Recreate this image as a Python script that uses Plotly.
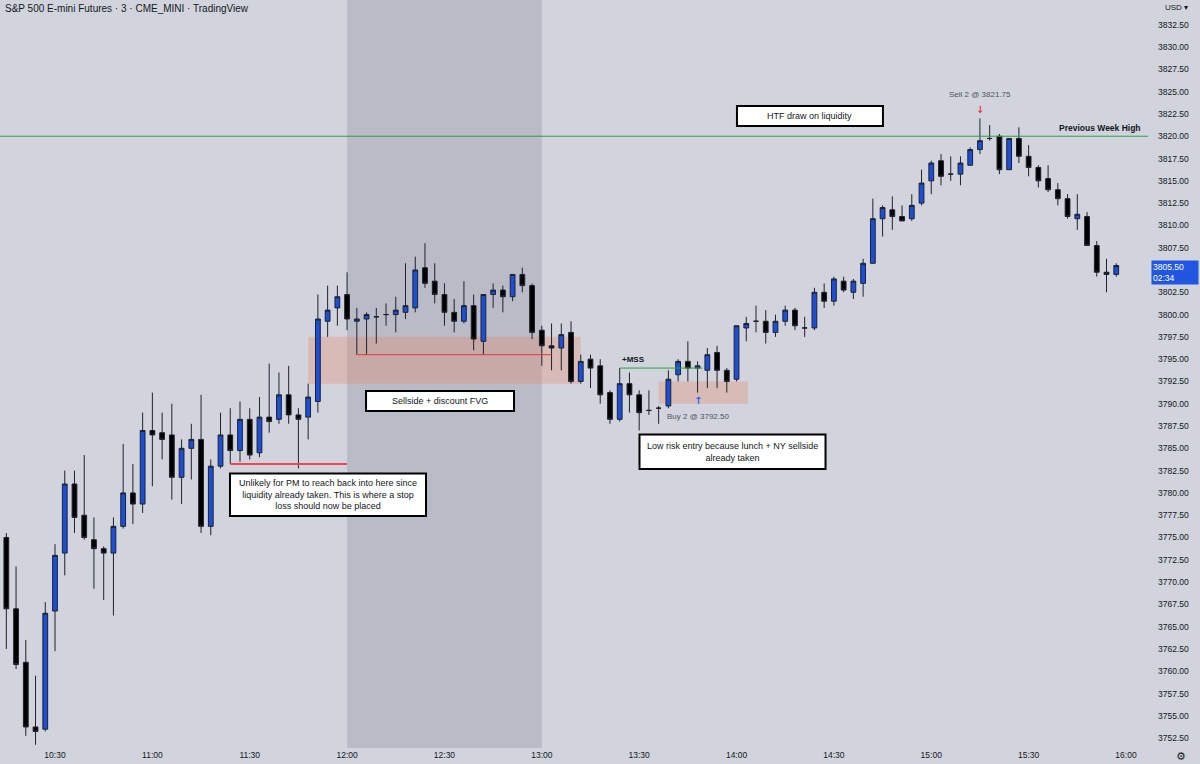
import plotly.graph_objects as go
import pandas as pd

DAY = "2022-12-09 "

# ---------------- data (3-minute bars, 10:15 .. 15:57) ----------------
opens = [3775.00, 3767.00, 3761.00, 3753.75, 3753.50, 3766.75, 3773.25, 3781.00, 3777.50, 3774.75,
         3773.75, 3773.25, 3776.25, 3780.00, 3778.75, 3787.00, 3786.75, 3786.50, 3781.75, 3785.00,
         3786.00, 3776.25, 3783.00, 3786.50, 3784.75, 3788.25, 3784.50, 3788.50, 3788.25, 3791.00,
         3788.75, 3788.50, 3790.25, 3799.25, 3800.75, 3802.25, 3799.25, 3799.50, 3799.75, 3800.00,
         3800.00, 3800.25, 3800.75, 3805.25, 3803.75, 3802.25, 3800.25, 3799.25, 3801.00, 3797.00,
         3802.25, 3802.75, 3802.00, 3804.50, 3803.25, 3798.25, 3796.50, 3796.25, 3798.00, 3792.50,
         3795.00, 3794.25, 3791.25, 3788.25, 3792.25, 3791.00, 3789.25, 3789.50, 3789.75, 3793.25,
         3794.75, 3794.00, 3793.75, 3795.75, 3793.75, 3792.75, 3798.50, 3799.25, 3799.25, 3798.00,
         3799.25, 3800.50, 3798.50, 3798.50, 3802.50, 3801.50, 3803.75, 3802.50, 3803.50, 3805.75,
         3810.75, 3811.75, 3811.00, 3810.75, 3812.50, 3815.00, 3817.25, 3815.75, 3815.75, 3816.75,
         3818.50, 3819.75, 3820.00, 3816.25, 3819.75, 3817.75, 3816.50, 3815.25, 3814.00, 3813.00,
         3810.75, 3811.00, 3807.75, 3804.75, 3804.50]
highs = [3775.50, 3771.75, 3763.50, 3759.50, 3767.75, 3774.25, 3782.50, 3782.50, 3784.25, 3777.25,
         3774.00, 3777.25, 3785.50, 3783.25, 3789.00, 3791.25, 3789.00, 3790.00, 3786.00, 3787.75,
         3791.00, 3783.75, 3789.00, 3789.50, 3790.25, 3789.50, 3790.75, 3794.50, 3793.50, 3794.25,
         3789.50, 3792.25, 3802.25, 3803.25, 3803.25, 3804.75, 3800.75, 3800.25, 3800.75, 3801.25,
         3802.00, 3805.75, 3806.50, 3808.00, 3805.75, 3803.50, 3801.75, 3803.75, 3802.25, 3802.25,
         3803.50, 3803.25, 3804.50, 3805.25, 3803.50, 3798.75, 3799.00, 3799.00, 3799.25, 3795.50,
         3795.50, 3795.00, 3791.50, 3794.00, 3793.50, 3791.50, 3791.50, 3789.75, 3793.75, 3795.00,
         3797.00, 3794.75, 3796.25, 3796.50, 3794.00, 3798.75, 3799.75, 3801.00, 3800.50, 3800.00,
         3801.00, 3800.75, 3799.75, 3803.00, 3803.50, 3804.25, 3804.25, 3804.00, 3806.25, 3813.00,
         3812.25, 3813.25, 3812.25, 3813.50, 3816.25, 3817.25, 3818.00, 3817.75, 3817.75, 3818.75,
         3822.00, 3821.25, 3820.25, 3819.75, 3821.00, 3819.00, 3816.75, 3816.75, 3814.75, 3813.50,
         3813.50, 3811.50, 3808.25, 3806.25, 3805.75]
lows = [3762.50, 3760.25, 3752.75, 3751.75, 3753.25, 3762.25, 3770.75, 3775.50, 3774.75, 3769.25,
        3768.00, 3766.25, 3776.00, 3776.50, 3777.75, 3780.75, 3783.75, 3779.25, 3778.75, 3781.50,
        3775.50, 3775.25, 3782.75, 3783.25, 3783.50, 3783.75, 3784.00, 3786.75, 3787.75, 3787.75,
        3782.75, 3786.00, 3789.00, 3797.50, 3798.75, 3798.25, 3795.50, 3795.50, 3796.75, 3798.75,
        3798.00, 3799.50, 3800.25, 3803.00, 3801.25, 3798.75, 3798.00, 3799.00, 3796.00, 3795.50,
        3800.75, 3800.25, 3801.50, 3802.50, 3797.25, 3794.25, 3793.75, 3793.75, 3792.25, 3792.25,
        3791.75, 3790.00, 3787.75, 3788.00, 3789.00, 3787.00, 3788.75, 3787.75, 3789.50, 3792.50,
        3792.50, 3791.25, 3791.75, 3791.75, 3791.25, 3792.50, 3797.00, 3798.00, 3796.75, 3797.50,
        3798.75, 3798.25, 3797.50, 3798.25, 3800.75, 3801.00, 3802.50, 3801.75, 3802.00, 3805.75,
        3808.75, 3809.50, 3810.50, 3810.50, 3812.25, 3813.50, 3814.50, 3815.00, 3814.50, 3816.75,
        3818.00, 3819.50, 3815.75, 3816.25, 3817.00, 3815.50, 3814.25, 3813.75, 3812.25, 3810.75,
        3809.50, 3807.75, 3804.25, 3802.50, 3804.25]
closes = [3767.00, 3760.75, 3753.75, 3753.25, 3766.50, 3773.00, 3781.00, 3777.25, 3775.00, 3773.75,
          3773.25, 3776.25, 3780.00, 3778.75, 3787.00, 3786.50, 3786.00, 3781.75, 3785.00, 3786.00,
          3776.25, 3783.00, 3786.50, 3784.75, 3788.25, 3784.25, 3788.50, 3788.00, 3791.00, 3788.75,
          3788.25, 3790.75, 3799.50, 3800.50, 3802.00, 3799.50, 3799.50, 3800.00, 3799.75, 3800.00,
          3800.50, 3801.00, 3805.00, 3803.50, 3802.25, 3800.25, 3799.25, 3801.00, 3797.25, 3802.25,
          3802.75, 3802.00, 3804.50, 3803.25, 3798.00, 3796.50, 3796.25, 3797.75, 3792.50, 3794.75,
          3794.00, 3791.00, 3788.25, 3792.25, 3791.00, 3789.00, 3789.25, 3789.50, 3792.75, 3794.75,
          3794.00, 3794.25, 3795.50, 3793.75, 3792.50, 3798.75, 3799.00, 3799.25, 3798.00, 3799.25,
          3800.50, 3798.75, 3798.50, 3802.50, 3801.50, 3804.00, 3802.75, 3803.75, 3805.75, 3810.75,
          3812.00, 3811.00, 3810.50, 3812.25, 3814.75, 3817.00, 3815.50, 3815.75, 3817.00, 3818.50,
          3819.50, 3819.75, 3816.25, 3819.75, 3817.75, 3816.50, 3815.00, 3814.00, 3813.00, 3811.00,
          3811.25, 3807.75, 3804.75, 3804.50, 3805.50]

time_tick_labels = ["10:30", "11:00", "11:30", "12:00", "12:30", "13:00", "13:30",
                    "14:00", "14:30", "15:00", "15:30", "16:00"]

# price-scale labels shown (3805.00 is hidden behind the last-price label)
price_ticks = [3752.50, 3755.00, 3757.50, 3760.00, 3762.50, 3765.00, 3767.50, 3770.00, 3772.50,
               3775.00, 3777.50, 3780.00, 3782.50, 3785.00, 3787.50, 3790.00, 3792.50, 3795.00,
               3797.50, 3800.00, 3802.50, 3807.50, 3810.00, 3812.50, 3815.00, 3817.50, 3820.00,
               3822.50, 3825.00, 3827.50, 3830.00, 3832.50]

# key levels / events
prev_week_high = 3820.00
stop_level = 3783.25
ny_low_level = 3795.50
fvg_low, fvg_high = 3792.25, 3797.50
mss_level = 3794.00
entry_low, entry_high = 3790.00, 3792.50
buy_price, buy_time = 3792.50, "13:48"
sell_price, sell_time = 3821.75, "15:15"
last_price, countdown = 3805.50, "02:34"

times = pd.date_range(DAY + "10:15", periods=len(opens), freq="3min")
T = lambda s: DAY + s

BG = "#d1d4dc"
TXT = "#131722"
FONT = "Liberation Sans"

fig = go.Figure()
fig.add_trace(go.Candlestick(
    x=times, open=opens, high=highs, low=lows, close=closes,
    increasing=dict(line=dict(color="#1e222d", width=1), fillcolor="#1b4fd8"),
    decreasing=dict(line=dict(color="#1e222d", width=1), fillcolor="#000000"),
    whiskerwidth=0, showlegend=False, hoverinfo="skip"))

x_start, x_end = T("10:13:03"), T("16:06:47")

shapes = [
    dict(type="rect", xref="x", yref="paper", x0=T("12:00"), x1=T("13:00"), y0=0, y1=1,
         fillcolor="#b9bcc6", line=dict(width=0), layer="below"),
    dict(type="rect", xref="x", yref="y", x0=T("11:48"), x1=T("13:12"), y0=fvg_low, y1=fvg_high,
         fillcolor="rgba(232,128,96,0.30)", line=dict(width=0), layer="below"),
    dict(type="rect", xref="x", yref="y", x0=T("13:36"), x1=T("14:03:30"), y0=entry_low, y1=entry_high,
         fillcolor="rgba(232,128,96,0.30)", line=dict(width=0), layer="below"),
    dict(type="line", xref="x", yref="y", x0=x_start, x1=x_end, y0=prev_week_high, y1=prev_week_high,
         line=dict(color="#2e9e44", width=1)),
    dict(type="line", xref="x", yref="y", x0=T("11:24"), x1=T("12:00"), y0=stop_level, y1=stop_level,
         line=dict(color="#f0465a", width=2)),
    dict(type="line", xref="x", yref="y", x0=T("12:03"), x1=T("13:03"), y0=ny_low_level, y1=ny_low_level,
         line=dict(color="#e53935", width=1)),
    dict(type="line", xref="x", yref="y", x0=T("13:24"), x1=T("13:49:30"), y0=mss_level, y1=mss_level,
         line=dict(color="#2e9e44", width=1)),
]

# text boxes: (x0, x1, y_top, y_bottom, text)
boxes = [
    (T("11:23:55"), T("12:24:19"), 3782.17, 3777.41,
     "Unlikely for PM to reach back into here since<br>liquidity already taken. This is where a stop<br>loss should now be placed"),
    (T("12:05:50"), T("12:51:26"), 3791.43, 3789.18, "Sellside + discount FVG"),
    (T("13:30:06"), T("14:27:25"), 3786.55, 3782.68,
     "Low risk entry because lunch + NY sellside<br>already taken"),
    (T("14:00:08"), T("14:45:07"), 3823.39, 3821.15, "HTF draw on liquidity"),
]
annotations = []
for x0, x1, yt, yb, txt in boxes:
    shapes.append(dict(type="rect", xref="x", yref="y", x0=x0, x1=x1, y0=yb, y1=yt,
                       fillcolor="white", line=dict(color="#000000", width=2), layer="above"))
    xm = pd.Timestamp(x0) + (pd.Timestamp(x1) - pd.Timestamp(x0)) / 2
    annotations.append(dict(x=xm, y=(yt + yb) / 2, xref="x", yref="y", text=txt, showarrow=False,
                            font=dict(family=FONT, size=9, color=TXT), align="center"))

annotations += [
    dict(xref="paper", yref="paper", x=0, y=1, xanchor="left", yanchor="top", xshift=3, yshift=-1,
         text="S&P 500 E-mini Futures · 3 · CME_MINI · TradingView", showarrow=False,
         font=dict(family=FONT, size=10, color=TXT)),
    dict(xref="paper", yref="y", x=0.9956, y=prev_week_high, xanchor="right", yanchor="bottom", yshift=1,
         text="<b>Previous Week High</b>", showarrow=False, font=dict(family=FONT, size=8.5, color=TXT)),
    dict(xref="x", yref="y", x=T("13:28:24"), y=mss_level, yanchor="bottom", yshift=2,
         text="<b>+MSS</b>", showarrow=False, font=dict(family=FONT, size=8, color=TXT)),
    dict(xref="x", yref="y", x=T(buy_time), y=entry_low, yanchor="bottom", yshift=-4, text="<b>↑</b>",
         showarrow=False, font=dict(family="DejaVu Sans", size=10, color="#2962ff")),
    dict(xref="x", yref="y", x=T(buy_time), y=3788.55, text="Buy 2 @ %.2f" % buy_price, showarrow=False,
         font=dict(family=FONT, size=8, color="#50535e")),
    dict(xref="x", yref="y", x=T(sell_time), y=highs[100], yanchor="bottom", yshift=1, text="<b>↓</b>",
         showarrow=False, font=dict(family="DejaVu Sans", size=10, color="#f23645")),
    dict(xref="x", yref="y", x=T(sell_time), y=3824.63, text="Sell 2 @ %.2f" % sell_price, showarrow=False,
         font=dict(family=FONT, size=8, color="#50535e")),
    dict(xref="paper", yref="y", x=1.0025, y=last_price, xanchor="left", yanchor="middle", yshift=-7,
         text="%.2f<br>%s" % (last_price, countdown), showarrow=False, align="left",
         bgcolor="#2157e0", width=44, height=21, borderpad=1,
         font=dict(family=FONT, size=8.5, color="white")),
    dict(xref="paper", yref="paper", x=1.0131, y=1, xanchor="left", yanchor="top", yshift=-1,
         text="USD ▾", showarrow=False, font=dict(family=FONT, size=8, color=TXT)),
    dict(xref="paper", yref="paper", x=1.0287, y=-0.012, xanchor="center", yanchor="middle",
         text="⚙", showarrow=False, font=dict(family="DejaVu Sans", size=11, color=TXT)),
]

fig.update_layout(
    width=1200, height=764, autosize=False,
    margin=dict(l=0, r=52, t=0, b=16),
    paper_bgcolor=BG, plot_bgcolor=BG,
    shapes=shapes, annotations=annotations,
    xaxis=dict(type="date", range=[x_start, x_end], rangeslider=dict(visible=False),
               tickvals=[T(t) for t in time_tick_labels], ticktext=time_tick_labels,
               showgrid=False, zeroline=False, showline=False, ticks="",
               tickfont=dict(family=FONT, size=8.5, color=TXT)),
    yaxis=dict(side="right", range=[3751.39, 3835.28], tickvals=price_ticks, tickformat=".2f",
               showgrid=False, zeroline=False, showline=False, ticks="", ticklabelstandoff=9,
               tickfont=dict(family=FONT, size=8.5, color=TXT)),
    hovermode=False,
)

fig.write_html("out.html")
